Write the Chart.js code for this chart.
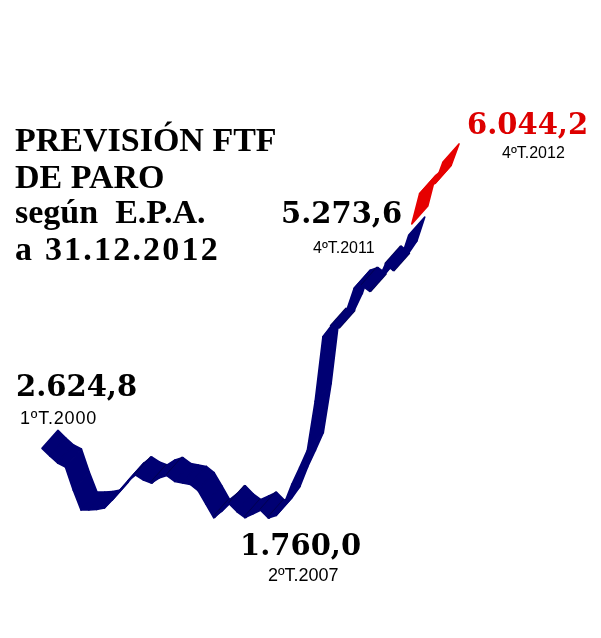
<!DOCTYPE html>
<html lang="es">
<head>
    <meta charset="UTF-8">
    <title>Previsión FTF de paro según E.P.A.</title>
    <script src="https://cdn.jsdelivr.net/npm/chart.js"></script>
    <style>
        body {
            margin: 0;
            padding: 0;
            background-color: #ffffff;
        }

        .wrap {
            position: relative;
            width: 601px;
            height: 638px;
            overflow: hidden;
        }

        .wrap canvas {
            position: absolute;
            left: 0;
            top: 0;
        }

        .txt {
            position: absolute;
            white-space: nowrap;
            color: #000;
        }

        .title {
            font-family: 'Liberation Serif', serif;
            font-weight: bold;
            font-size: 34px;
            line-height: 34px;
        }

        .num {
            font-family: 'DejaVu Serif', serif;
            font-weight: bold;
            font-size: 29px;
            line-height: 29px;
        }

        .qtr {
            font-family: 'Liberation Sans', Arial, sans-serif;
            font-size: 18px;
            line-height: 18px;
        }
    </style>
</head>
<body>
    <div class="wrap">
        <canvas id="chart"></canvas>

        <div class="txt title" style="left:15px; top:123px;">PREVISIÓN FTF</div>
        <div class="txt title" style="left:15px; top:160px;">DE PARO</div>
        <div class="txt title" style="left:15px; top:195px;">según&nbsp; E.P.A.</div>
        <div class="txt title" style="left:15px; top:232px; letter-spacing:2.2px;">a 31.12.2012</div>

        <div class="txt num" style="left:16px; top:372px;">2.624,8</div>
        <div class="txt qtr" style="left:20px; top:409px; letter-spacing:0.8px;">1ºT.2000</div>

        <div class="txt num" style="left:240px; top:531px;">1.760,0</div>
        <div class="txt qtr" style="left:268px; top:566px;">2ºT.2007</div>

        <div class="txt num" style="left:281px; top:199px;">5.273,6</div>
        <div class="txt qtr" style="left:313px; top:239px; font-size:16px;">4ºT.2011</div>

        <div class="txt num" style="left:467px; top:110px; color:#dd0000;">6.044,2</div>
        <div class="txt qtr" style="left:502px; top:144px; font-size:16px;">4ºT.2012</div>
    </div>

    <script>
        // trimestres 2000-2012
        const trimestres = [
            '1T2000', '2T2000', '3T2000', '4T2000',
            '1T2001', '2T2001', '3T2001', '4T2001',
            '1T2002', '2T2002', '3T2002', '4T2002',
            '1T2003', '2T2003', '3T2003', '4T2003',
            '1T2004', '2T2004', '3T2004', '4T2004',
            '1T2005', '2T2005', '3T2005', '4T2005',
            '1T2006', '2T2006', '3T2006', '4T2006',
            '1T2007', '2T2007', '3T2007', '4T2007',
            '1T2008', '2T2008', '3T2008', '4T2008',
            '1T2009', '2T2009', '3T2009', '4T2009',
            '1T2010', '2T2010', '3T2010', '4T2010',
            '1T2011', '2T2011', '3T2011', '4T2011',
            '1T2012', '2T2012', '3T2012', '4T2012'
        ];

        // parados EPA (miles)
        const paroEPA = [
            2624.8, 2530, 2443, 2393,
            2108, 1859, 1859, 1865,
            1884, 1983, 2108, 2219,
            2294, 2232, 2195, 2257,
            2287.2, 2213.4, 2194.7, 2176.9,
            2099.5, 1933.9, 1765.0, 1841.3,
            1935.8, 1837.0, 1765.0, 1810.6,
            1856.1, 1760.0, 1791.9, 1927.6,
            2174.2, 2381.5, 2598.8, 3207.9,
            4010.7, 4137.5, 4123.3, 4326.5,
            4612.7, 4645.5, 4574.7, 4696.6,
            4910.2, 4833.7, 4978.3, 5273.6,
            null, null, null, null
        ];

        // previsión FTF 2012
        const paroPrevision = [
            null, null, null, null, null, null, null, null, null, null, null, null,
            null, null, null, null, null, null, null, null, null, null, null, null,
            null, null, null, null, null, null, null, null, null, null, null, null,
            null, null, null, null, null, null, null, null, null, null, null,
            5273.6, 5650, 5730, 5780, 6044.2
        ];

        // fondo de la cinta 3D (px)
        const DEPTH_X = 16;
        const DEPTH_Y = -18;

        const ribbon3d = {
            id: 'ribbon3d',
            afterDatasetsDraw(chart) {
                const ctx = chart.ctx;
                chart.data.datasets.forEach((ds, di) => {
                    const pts = chart.getDatasetMeta(di).data;
                    const st = ds.ribbon;
                    ctx.save();
                    ctx.translate(st.dx, st.dy);
                    ctx.lineJoin = 'round';
                    for (let i = 0; i < pts.length - 1; i++) {
                        const a = pts[i], b = pts[i + 1];
                        if (a.skip || b.skip) continue;
                        ctx.beginPath();
                        ctx.moveTo(a.x, a.y);
                        ctx.lineTo(b.x, b.y);
                        ctx.lineTo(b.x + DEPTH_X, b.y + DEPTH_Y);
                        ctx.lineTo(a.x + DEPTH_X, a.y + DEPTH_Y);
                        ctx.closePath();
                        ctx.fillStyle = st.color;
                        ctx.strokeStyle = st.color;
                        ctx.lineWidth = 1.6;
                        ctx.fill();
                        ctx.stroke();

                        // pliegue oscuro donde cambia la pendiente
                        const c = pts[i + 2];
                        if (c && !c.skip && (b.y - a.y) * (c.y - b.y) < 0) {
                            ctx.beginPath();
                            ctx.moveTo(b.x, b.y);
                            ctx.lineTo(b.x + DEPTH_X, b.y + DEPTH_Y);
                            ctx.strokeStyle = st.dark;
                            ctx.lineWidth = 3;
                            ctx.stroke();
                        }
                    }
                    ctx.restore();
                });
            }
        };

        const ctx = document.getElementById('chart').getContext('2d');
        new Chart(ctx, {
            type: 'line',
            data: {
                labels: trimestres,
                datasets: [
                    {
                        label: 'Paro EPA',
                        data: paroEPA,
                        showLine: false,
                        pointRadius: 0,
                        ribbon: { color: '#000073', dark: '#00004e', dx: 0, dy: 0 }
                    },
                    {
                        label: 'Previsión FTF',
                        data: paroPrevision,
                        showLine: false,
                        pointRadius: 0,
                        ribbon: { color: '#e60000', dark: '#a80000', dx: 3, dy: -11 }
                    }
                ]
            },
            options: {
                responsive: true,
                maintainAspectRatio: false,
                animation: false,
                layout: { padding: { left: 42, right: 161, top: 0, bottom: 0 } },
                plugins: {
                    legend: { display: false },
                    tooltip: { enabled: false }
                },
                scales: {
                    x: { display: false, offset: false },
                    y: { display: false, min: 270.2, max: 8191 }
                }
            },
            plugins: [ribbon3d]
        });
    </script>
</body>
</html>
